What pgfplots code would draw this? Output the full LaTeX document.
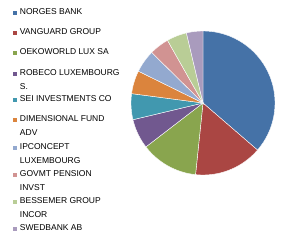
\documentclass[border=0pt]{standalone}
\usepackage{pgfplots}
\pgfplotsset{compat=1.18}
\usepackage{pgfplotstable}
\usepackage{fontspec}
\setmainfont{Liberation Sans}
\definecolor{c0}{HTML}{4572A7}
\definecolor{c1}{HTML}{AA4643}
\definecolor{c2}{HTML}{89A54E}
\definecolor{c3}{HTML}{71588F}
\definecolor{c4}{HTML}{4198AF}
\definecolor{c5}{HTML}{DB843D}
\definecolor{c6}{HTML}{93A9CF}
\definecolor{c7}{HTML}{D19392}
\definecolor{c8}{HTML}{B9CD96}
\definecolor{c9}{HTML}{A99BBD}
\pgfplotstableread{
name val
NORGES 36.3
VANGUARD 15.3
OEKO 12.9
ROBECO 6.7
SEI 5.8
DIMENSIONAL 5.2
IPCONCEPT 5.1
GOVMT 4.4
BESSEMER 4.5
SWEDBANK 3.7
}\data
\newcommand{\one}[2]{\begin{tabular}[t]{@{}l@{}}\rule{0pt}{#1}#2\end{tabular}}
\newcommand{\two}[3]{\begin{tabular}[t]{@{}l@{}}\rule{0pt}{#1}#2\\#3\end{tabular}}
\begin{document}
\begin{tikzpicture}
\path (0,0) rectangle (289pt,-243pt);
\pgfmathsetmacro\total{0}
\pgfplotsforeachungrouped \i in {0,...,9}{%
  \pgfplotstablegetelem{\i}{val}\of\data
  \pgfmathsetmacro\total{\total+\pgfplotsretval}%
}
\begin{axis}[
  hide axis, scale only axis,
  width=144pt, height=144pt,
  xmin=-1, xmax=1, ymin=-1, ymax=1,
  at={(203pt,-103pt)}, anchor=center,
  clip=false,
  legend image code/.code={\fill[#1] (0pt,0pt) rectangle (5pt,5pt);},
  legend style={draw=none, fill=none, inner sep=0pt, outer sep=0pt,
    row sep=0pt, column sep=2.5pt,
    font=\fontsize{8.5}{13.5}\selectfont,
    nodes={inner sep=0pt},
    cells={anchor=base west},
    at={(-0.826,1.178)}, anchor=north west},
  legend entries={
    {\one{6pt}{NORGES BANK}},
    {\one{18.5pt}{VANGUARD GROUP}},
    {\one{18.5pt}{OEKOWORLD LUX SA}},
    {\two{19.5pt}{ROBECO LUXEMBOURG}{S.}},
    {\one{24.5pt}{SEI INVESTMENTS CO}},
    {\two{18.5pt}{DIMENSIONAL FUND}{ADV}},
    {\two{26.5pt}{IPCONCEPT}{LUXEMBOURG}},
    {\two{25.5pt}{GOVMT PENSION}{INVST}},
    {\two{25.5pt}{BESSEMER GROUP}{INCOR}},
    {\one{25.5pt}{SWEDBANK AB}}},
]
\pgfmathsetmacro\cum{0}
\pgfplotsforeachungrouped \i in {0,...,9}{%
  \pgfplotstablegetelem{\i}{val}\of\data
  \pgfmathsetmacro\a{90-\cum/\total*360}%
  \pgfmathsetmacro\cum{\cum+\pgfplotsretval}%
  \pgfmathsetmacro\b{90-\cum/\total*360}%
  \edef\temp{\noexpand\addplot[fill=c\i, draw=white, line width=0.4pt, domain=\b:\a, samples=60, variable=\noexpand\t] ({cos(\noexpand\t)},{sin(\noexpand\t)}) -- (axis cs:0,0) -- cycle;}%
  \temp
}
\end{axis}
\end{tikzpicture}
\end{document}
